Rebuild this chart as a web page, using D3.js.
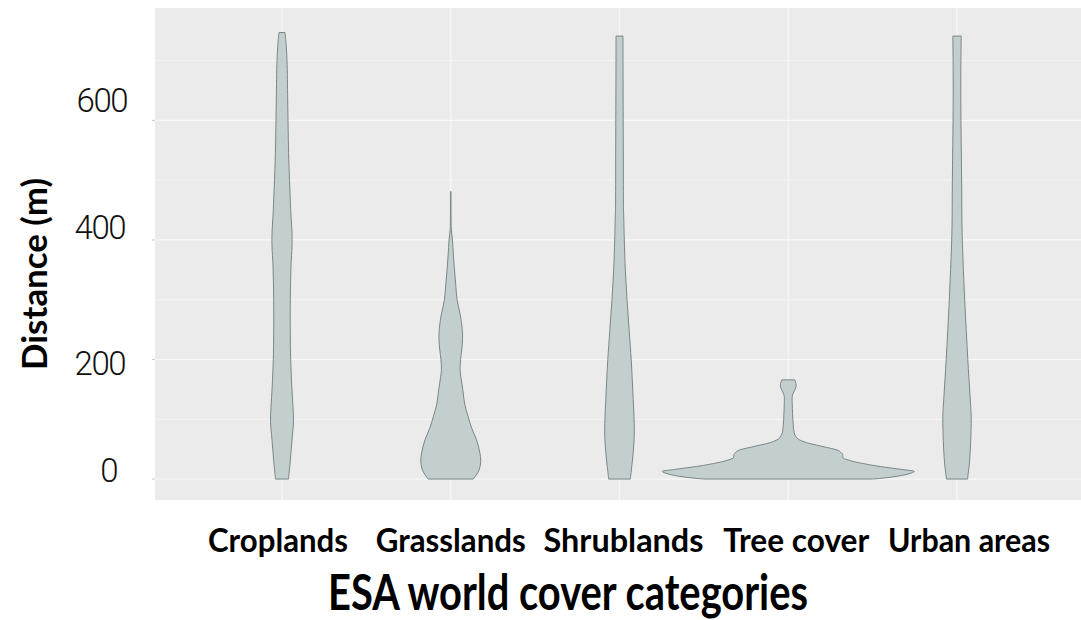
<!DOCTYPE html>
<html>
<head>
<meta charset="utf-8">
<script src="https://cdn.jsdelivr.net/npm/d3@7"></script>
<style>
  html, body { margin: 0; padding: 0; background: #ffffff; }
  svg { display: block; }
</style>
</head>
<body>
<svg id="chart" width="1081" height="620"></svg>
<script>
// ---------------- data ----------------
const categories = ["Croplands", "Grasslands", "Shrublands", "Tree cover", "Urban areas"];
const yTicks = [0, 200, 400, 600];
const yMinorTicks = [100, 300, 500, 700];
const yTickLabels = ["0", "200", "400", "600"];
const yTitle = "Distance (m)";
const xTitle = "ESA world cover categories";

// density profiles: [distance (m), relative density]
const croplandsDensity = [[0,6.7],[4,6.7],[25,8],[49,9.2],[75,10.5],[96,11.5],[120,11],[155,9.8],[200,8.7],[244,8.3],[300,8.3],[356,9],[390,10],[411,10],[440,9],[467,8.3],[534,6.8],[580,6.2],[635,5.7],[700,5],[730,4],[747,3]];
const grasslandsDensity = [[0,22.5],[8,26],[16,28.5],[30,30],[45,29],[66,25.7],[85,21],[105,17.3],[125,14],[150,12],[170,10.2],[183,9.3],[200,9.8],[216,11],[235,11.8],[250,11.5],[275,9.5],[300,6.3],[325,5],[350,3.7],[375,2.6],[400,1.7],[417,0.6],[440,0.3],[481,0.3]];
const shrublandsDensity = [[0,11],[2,11],[32,13],[60,14.4],[82,14.8],[105,14.5],[133,13.7],[165,12.8],[200,11.7],[250,9.6],[300,7.5],[350,5.8],[400,4.8],[440,4.2],[451,4],[467,3.9],[550,3.8],[650,3.6],[700,3.5],[741,3.5]];
const treeCoverDensity = [[0,84],[2,97],[5,110],[9,121],[12.7,126],[16,114],[21,92],[25,78],[29.5,65],[33,58],[35,55],[38,54.5],[41,54.5],[44,53],[47,51],[50,46],[53,38],[57,28],[61,18],[65,12],[69,8.5],[77,6],[90,5],[110,4.3],[125,4],[138,4],[144,5],[149.5,6.7],[155,7.8],[160,7.7],[166,6.5]];
const urbanDensity = [[0,10.7],[2,10.7],[25,12.3],[49,13.3],[80,14],[105,14.2],[140,13],[200,10.8],[250,9.2],[300,7.7],[367,6],[420,5],[490,4.7],[560,4.2],[635,3.8],[700,3.9],[741,4.2]];

const densities = [croplandsDensity, grasslandsDensity, shrublandsDensity, treeCoverDensity, urbanDensity];

// ---------------- layout ----------------
const panel = { left: 155, top: 8, right: 1081, bottom: 500 };
const svg = d3.select("#chart");

const y = d3.scaleLinear().domain([-35, 788]).range([panel.bottom, panel.top]);
const x = d3.scalePoint().domain(categories).range([282, 957]);
const xLabel = d3.scalePoint().domain(categories).range([278, 969]);
const maxDensity = d3.max(densities.flat(), d => d[1]);
const w = d3.scaleLinear().domain([0, maxDensity]).range([0, 126]);
const labelWidths = [140, 150, 160, 146, 162];

// panel background
svg.append("rect")
  .attr("x", panel.left).attr("y", panel.top)
  .attr("width", panel.right - panel.left).attr("height", panel.bottom - panel.top)
  .attr("fill", "#ebebeb");

// grid
const grid = svg.append("g");
grid.selectAll("line.minor").data(yMinorTicks).join("line")
  .attr("class", "minor")
  .attr("x1", panel.left).attr("x2", panel.right)
  .attr("y1", d => y(d)).attr("y2", d => y(d))
  .attr("stroke", "#f4f4f4").attr("stroke-width", 1);
grid.selectAll("line.major").data(yTicks).join("line")
  .attr("class", "major")
  .attr("x1", panel.left).attr("x2", panel.right)
  .attr("y1", d => y(d)).attr("y2", d => y(d))
  .attr("stroke", "#f7f7f7").attr("stroke-width", 1.2);
grid.selectAll("line.vert").data(categories).join("line")
  .attr("class", "vert")
  .attr("x1", d => x(d)).attr("x2", d => x(d))
  .attr("y1", panel.top).attr("y2", panel.bottom)
  .attr("stroke", "#f7f7f7").attr("stroke-width", 1.2);

// violins
categories.forEach((c, i) => {
  const cx = x(c);
  const area = d3.area()
    .y(d => y(d[0]))
    .x0(d => cx - w(d[1]))
    .x1(d => cx + w(d[1]))
    .curve(d3.curveCatmullRom.alpha(0.5));
  svg.append("path")
    .datum(densities[i])
    .attr("d", area)
    .attr("fill", "#c3cece")
    .attr("stroke", "#7b8686")
    .attr("stroke-width", 1)
    .attr("stroke-linejoin", "round");
});

// y ticks
svg.selectAll("line.tick").data(yTicks).join("line")
  .attr("class", "tick")
  .attr("x1", panel.left - 3).attr("x2", panel.left)
  .attr("y1", d => y(d)).attr("y2", d => y(d))
  .attr("stroke", "#c8c8c8").attr("stroke-width", 1);

// tick labels (placed as in the reference, which nudges them)
const tickLabelNudgeY = [-9, 4, -13, -20];
const tickLabelNudgeX = [-8, 0, 0, 2];
svg.selectAll("text.ytick").data(yTicks).join("text")
  .attr("class", "ytick")
  .attr("x", (d, i) => 125 + tickLabelNudgeX[i])
  .attr("y", (d, i) => y(d) + tickLabelNudgeY[i])
  .attr("dy", "0.355em")
  .attr("text-anchor", "end")
  .attr("font-family", "Roboto, sans-serif")
  .attr("font-weight", 300)
  .attr("font-size", 33)
  .attr("letter-spacing", -1.5)
  .attr("fill", "#111")
  .text((d, i) => yTickLabels[i]);

// category labels
svg.selectAll("text.xcat").data(categories).join("text")
  .attr("class", "xcat")
  .attr("x", d => xLabel(d))
  .attr("y", 552)
  .attr("text-anchor", "middle")
  .attr("font-family", "Lato, sans-serif")
  .attr("font-weight", 700)
  .attr("font-size", 32)
  .attr("textLength", (d, i) => labelWidths[i])
  .attr("lengthAdjust", "spacingAndGlyphs")
  .attr("fill", "#000")
  .text(d => d);

// x title
svg.append("text")
  .attr("x", 568).attr("y", 610)
  .attr("text-anchor", "middle")
  .attr("font-family", "Lato, sans-serif")
  .attr("font-weight", 700)
  .attr("font-size", 49)
  .attr("textLength", 480)
  .attr("lengthAdjust", "spacingAndGlyphs")
  .attr("fill", "#000")
  .text(xTitle);

// y title
svg.append("text")
  .attr("transform", "translate(47,274) rotate(-90)")
  .attr("text-anchor", "middle")
  .attr("font-family", "Lato, sans-serif")
  .attr("font-weight", 700)
  .attr("font-size", 35)
  .attr("textLength", 192)
  .attr("lengthAdjust", "spacingAndGlyphs")
  .attr("fill", "#000")
  .text(yTitle);
</script>
</body>
</html>
